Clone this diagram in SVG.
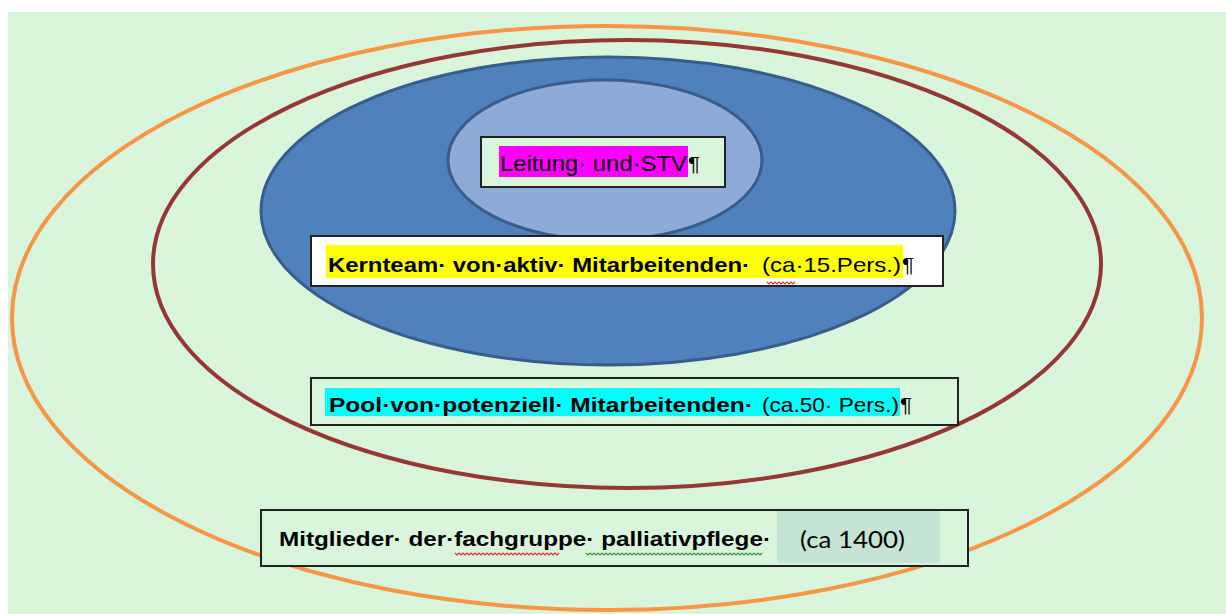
<svg xmlns="http://www.w3.org/2000/svg" width="1226" height="614" viewBox="0 0 1226 614">
<style>
.t{font-family:"Liberation Sans",Arial,sans-serif;fill:#000}
.b{font-weight:bold}
.box{stroke:#222;stroke-width:2}
.ring{fill:none;stroke-width:4}
.wave{fill:none;stroke-width:1.2}
</style>
<rect x="0" y="0" width="1226" height="614" fill="#ffffff"/>
<rect x="8" y="12" width="1218" height="602" fill="#d9f5db"/>
<g id="rings">
<ellipse id="orange-ring" class="ring" cx="607" cy="318" rx="595" ry="292" stroke="#f79646"/>
<ellipse id="red-ring" class="ring" cx="627" cy="264" rx="474" ry="224" stroke="#953735"/>
<ellipse id="blue-core" cx="608" cy="211" rx="347" ry="154" fill="#4f81bd" stroke="#385d8a" stroke-width="3"/>
<ellipse id="inner-core" cx="605" cy="160" rx="157" ry="80" fill="#8eaad6" stroke="#385d8a" stroke-width="3"/>
</g>
<g id="connectors"></g>
<g id="leitung">
<rect class="box" x="481" y="137" width="244" height="50" fill="#d9f5db"/>
<rect x="499" y="146" width="189" height="31" fill="#ff00ff"/>
<text class="t" x="500" y="171" font-size="22" textLength="187" lengthAdjust="spacingAndGlyphs">Leitung· und·STV</text>
<text class="t" x="688" y="171" font-size="21" textLength="12" lengthAdjust="spacingAndGlyphs">¶</text>
</g>
<g id="kernteam">
<rect class="box" x="311" y="236" width="632" height="50" fill="#ffffff"/>
<rect x="326" y="245" width="577" height="33" fill="#ffff00"/>
<text class="t b" x="328" y="272" font-size="21" textLength="422" lengthAdjust="spacingAndGlyphs">Kernteam· von·aktiv· Mitarbeitenden·</text>
<text class="t" x="762" y="272" font-size="21" textLength="139" lengthAdjust="spacingAndGlyphs">(ca·15.Pers.)</text>
<text class="t" x="902" y="272" font-size="21" textLength="12" lengthAdjust="spacingAndGlyphs">¶</text>
<path class="wave" stroke="#e03030" d="M767 282 l2 2 l2 -2 l2 2 l2 -2 l2 2 l2 -2 l2 2 l2 -2 l2 2 l2 -2 l2 2 l2 -2 l2 2 l2 -2"/>
</g>
<g id="pool">
<rect class="box" x="311" y="378" width="647" height="47" fill="#d9f5db"/>
<rect x="325" y="388" width="575" height="28" fill="#00ffff"/>
<text class="t b" x="329" y="412" font-size="21" textLength="424" lengthAdjust="spacingAndGlyphs">Pool·von·potenziell· Mitarbeitenden·</text>
<text class="t" x="762" y="412" font-size="21" textLength="137" lengthAdjust="spacingAndGlyphs">(ca.50· Pers.)</text>
<text class="t" x="900" y="412" font-size="21" textLength="12" lengthAdjust="spacingAndGlyphs">¶</text>
</g>
<g id="mitglieder">
<rect class="box" x="261" y="510" width="707" height="56" fill="#d9f5db"/>
<rect x="777" y="511" width="163" height="52" fill="#c4e5d5"/>
<text class="t b" x="279" y="546" font-size="20" textLength="492" lengthAdjust="spacingAndGlyphs">Mitglieder· der·fachgruppe· palliativpflege·</text>
<text x="800" y="548" font-size="24" font-family="Lato,'Open Sans',sans-serif" textLength="105" lengthAdjust="spacingAndGlyphs">(ca 1400)</text>
<path class="wave" stroke="#e03030" d="M455 553 l2 2 l2 -2 l2 2 l2 -2 l2 2 l2 -2 l2 2 l2 -2 l2 2 l2 -2 l2 2 l2 -2 l2 2 l2 -2 l2 2 l2 -2 l2 2 l2 -2 l2 2 l2 -2 l2 2 l2 -2 l2 2 l2 -2 l2 2 l2 -2 l2 2 l2 -2 l2 2 l2 -2 l2 2 l2 -2 l2 2 l2 -2 l2 2 l2 -2 l2 2 l2 -2 l2 2 l2 -2 l2 2 l2 -2 l2 2 l2 -2 l2 2 l2 -2 l2 2 l2 -2 l2 2 l2 -2 l2 2 l2 -2"/>
<path class="wave" stroke="#3a9a3a" d="M586 553 l2 2 l2 -2 l2 2 l2 -2 l2 2 l2 -2 l2 2 l2 -2 l2 2 l2 -2 l2 2 l2 -2 l2 2 l2 -2 l2 2 l2 -2 l2 2 l2 -2 l2 2 l2 -2 l2 2 l2 -2 l2 2 l2 -2 l2 2 l2 -2 l2 2 l2 -2 l2 2 l2 -2 l2 2 l2 -2 l2 2 l2 -2 l2 2 l2 -2 l2 2 l2 -2 l2 2 l2 -2 l2 2 l2 -2 l2 2 l2 -2 l2 2 l2 -2 l2 2 l2 -2 l2 2 l2 -2 l2 2 l2 -2 l2 2 l2 -2 l2 2 l2 -2 l2 2 l2 -2 l2 2 l2 -2 l2 2 l2 -2 l2 2 l2 -2 l2 2 l2 -2 l2 2 l2 -2 l2 2 l2 -2 l2 2 l2 -2 l2 2 l2 -2 l2 2 l2 -2 l2 2 l2 -2 l2 2 l2 -2 l2 2 l2 -2 l2 2 l2 -2 l2 2 l2 -2 l2 2 l2 -2"/>
</g>
</svg>
